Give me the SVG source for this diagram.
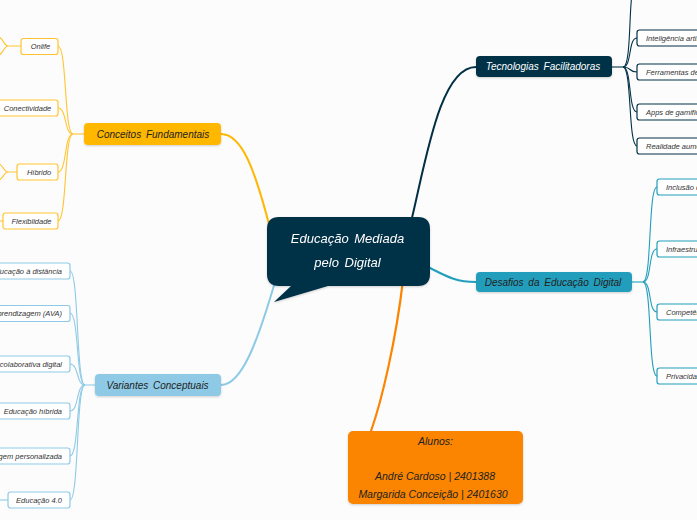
<svg xmlns="http://www.w3.org/2000/svg" width="697" height="520" viewBox="0 0 697 520">
<style>
text{font-family:"Liberation Sans",Arial,sans-serif;font-style:italic;}
.main{font-size:10px;word-spacing:2px;}
.child{font-size:7.5px;fill:#333;}
.cbox{fill:#fff;stroke-width:1.2;}
.amb{stroke:#ffc531;}
.lb{stroke:#8ecae6;}
.nv{stroke:#023047;}
.tl{stroke:#219ebc;}
.con{fill:none;stroke-linecap:round;}
</style>
<defs>
<filter id="sh" x="-10%" y="-20%" width="120%" height="150%">
<feDropShadow dx="0" dy="1" stdDeviation="1" flood-color="#000" flood-opacity="0.18"/>
</filter>
</defs>
<rect width="697" height="520" fill="#fcfcfc"/>

<g id="connectors">
<!-- main branches -->
<path class="con" d="M221,134 C242,134 255,170 270,228" stroke="#ffb703" stroke-width="2"/>
<path class="con" d="M221,385 C242,385 258,340 275,282" stroke="#8ecae6" stroke-width="2"/>
<path class="con" d="M411,222 C426,160 440,67 476,67" stroke="#023047" stroke-width="2"/>
<path class="con" d="M428,267 C446,276 455,282 476,282" stroke="#219ebc" stroke-width="2"/>
<path class="con" d="M403,280 C396,340 382,400 371,431" stroke="#fb8500" stroke-width="2.2"/>

<!-- Conceitos children -->
<g stroke="#ffc531" stroke-width="1.1" fill="none">
<path d="M84,134 H73"/>
<path d="M73,134 C64,134 67,46 58,46"/>
<path d="M73,134 C64,134 67,108 58,108"/>
<path d="M73,134 C64,134 67,172 58,172"/>
<path d="M73,134 C64,134 67,221 58,221"/>
<path d="M21,46 H8 M8,46 C4,46 3,38 -1,37 M8,46 C4,46 3,54 -1,55"/>
<path d="M17,172 H8 M8,172 C4,172 3,165 -1,164 M8,172 C4,172 3,179 -1,180"/>
<path d="M3,221 H-2"/>
</g>

<!-- Variantes children -->
<g stroke="#8ecae6" stroke-width="1.1" fill="none">
<path d="M95,385 H85"/>
<path d="M85,385 C76,385 79,271 70,271"/>
<path d="M85,385 C76,385 79,313 70,313"/>
<path d="M85,385 C76,385 79,364 70,364"/>
<path d="M85,385 C76,385 79,411 70,411"/>
<path d="M85,385 C76,385 79,456 70,456"/>
<path d="M85,385 C76,385 79,500 70,500"/>
<path d="M8,500 H-2"/>
</g>

<!-- Tecnologias children -->
<g stroke="#023047" stroke-width="1.1" fill="none">
<path d="M612,67 H623"/>
<path d="M623,67 C631,67 629,10 632,-5"/>
<path d="M623,67 C632,67 628,38 637,38"/>
<path d="M623,67 C632,67 628,72 637,72"/>
<path d="M623,67 C632,67 628,112 637,112"/>
<path d="M623,67 C632,67 628,146 637,146"/>
</g>

<!-- Desafios children -->
<g stroke="#219ebc" stroke-width="1.1" fill="none">
<path d="M632,282 H643"/>
<path d="M643,282 C652,282 648,187 657,187"/>
<path d="M643,282 C652,282 648,249 657,249"/>
<path d="M643,282 C652,282 648,312 657,312"/>
<path d="M643,282 C652,282 648,376 657,376"/>
</g>
</g>

<!-- center -->
<g id="center" filter="url(#sh)">
<path d="M279,217 H418 Q430,217 430,229 V274 Q430,286 418,286 H328 L274,302 L291,286 H279 Q267,286 267,274 V229 Q267,217 279,217 Z" fill="#023047"/>
<text x="347.5" y="243" font-size="13" fill="#fff" text-anchor="middle" style="word-spacing:2px">Educação Mediada</text>
<text x="347.5" y="267" font-size="13" fill="#fff" text-anchor="middle" style="word-spacing:2px">pelo Digital</text>
</g>

<!-- Conceitos Fundamentais -->
<g id="conceitos">
<rect x="84" y="123" width="137" height="22" rx="4" fill="#ffb703" filter="url(#sh)"/>
<text class="main" x="153" y="137.5" text-anchor="middle" fill="#222">Conceitos Fundamentais</text>
</g>
<g id="onlife"><rect class="cbox amb" x="21" y="38.5" width="37" height="16" rx="2.5"/><text class="child" x="40.5" y="49" text-anchor="middle">Onlife</text></g>
<g id="conectividade"><rect class="cbox amb" x="-3" y="100" width="61" height="16" rx="2.5"/><text class="child" x="27.5" y="110.5" text-anchor="middle">Conectividade</text></g>
<g id="hibrido"><rect class="cbox amb" x="17" y="164" width="41" height="16" rx="2.5"/><text class="child" x="39" y="174.5" text-anchor="middle">Híbrido</text></g>
<g id="flexiblidade"><rect class="cbox amb" x="3" y="213" width="55" height="16" rx="2.5"/><text class="child" x="31.5" y="223.5" text-anchor="middle">Flexiblidade</text></g>

<!-- Variantes Conceptuais -->
<g id="variantes">
<rect x="95" y="374" width="126" height="22" rx="4" fill="#8ecae6" filter="url(#sh)"/>
<text class="main" x="157.5" y="388.5" text-anchor="middle" fill="#222">Variantes Conceptuais</text>
</g>
<g id="ead"><rect class="cbox lb" x="-40" y="263" width="110" height="16" rx="2.5"/><text class="child" x="62" y="273.5" text-anchor="end">Educação à distância</text></g>
<g id="ava"><rect class="cbox lb" x="-140" y="305.5" width="210" height="16" rx="2.5"/><text class="child" x="62" y="316" text-anchor="end">Ambientes virtuais de aprendizagem (AVA)</text></g>
<g id="colab"><rect class="cbox lb" x="-90" y="356" width="160" height="16" rx="2.5"/><text class="child" x="62" y="366.5" text-anchor="end">Aprendizagem colaborativa digital</text></g>
<g id="hibrida"><rect class="cbox lb" x="-10" y="403" width="80" height="16" rx="2.5"/><text class="child" x="62" y="413.5" text-anchor="end">Educação híbrida</text></g>
<g id="personalizada"><rect class="cbox lb" x="-60" y="448" width="130" height="16" rx="2.5"/><text class="child" x="62" y="458.5" text-anchor="end">Aprendizagem personalizada</text></g>
<g id="edu40"><rect class="cbox lb" x="8" y="492" width="62" height="16" rx="2.5"/><text class="child" x="39" y="502.5" text-anchor="middle">Educação 4.0</text></g>

<!-- Tecnologias Facilitadoras -->
<g id="tecnologias">
<rect x="476" y="56" width="136" height="21" rx="4" fill="#023047" filter="url(#sh)"/>
<text class="main" x="543" y="70" text-anchor="middle" fill="#fff">Tecnologias Facilitadoras</text>
</g>
<g id="ia"><rect class="cbox nv" x="637" y="30" width="110" height="16" rx="2.5"/><text class="child" x="646" y="40.5">Inteligência artificial</text></g>
<g id="ferramentas"><rect class="cbox nv" x="637" y="64" width="130" height="16" rx="2.5"/><text class="child" x="646" y="74.5">Ferramentas de colaboração</text></g>
<g id="apps"><rect class="cbox nv" x="637" y="104" width="110" height="16" rx="2.5"/><text class="child" x="646" y="114.5">Apps de gamificação</text></g>
<g id="ra"><rect class="cbox nv" x="637" y="138" width="110" height="16" rx="2.5"/><text class="child" x="646" y="148.5">Realidade aumentada</text></g>

<!-- Desafios -->
<g id="desafios">
<rect x="476" y="272" width="156" height="20" rx="4" fill="#219ebc" filter="url(#sh)"/>
<text class="main" x="553" y="285.5" text-anchor="middle" fill="#222">Desafios da Educação Digital</text>
</g>
<g id="inclusao"><rect class="cbox tl" x="657" y="179" width="90" height="16" rx="2.5"/><text class="child" x="666" y="189.5">Inclusão digital</text></g>
<g id="infra"><rect class="cbox tl" x="657" y="241" width="120" height="16" rx="2.5"/><text class="child" x="666" y="251.5">Infraestrutura tecnológica</text></g>
<g id="competencias"><rect class="cbox tl" x="657" y="304" width="110" height="16" rx="2.5"/><text class="child" x="666" y="314.5">Competências digitais</text></g>
<g id="privacidade"><rect class="cbox tl" x="657" y="368" width="110" height="16" rx="2.5"/><text class="child" x="666" y="378.5">Privacidade e segurança</text></g>

<!-- Alunos -->
<g id="alunos">
<rect x="348" y="431" width="175" height="73" rx="5" fill="#fb8500" filter="url(#sh)"/>
<text x="435.5" y="445" font-size="10.5" text-anchor="middle" fill="#222">Alunos:</text>
<text x="435" y="480" font-size="10.5" text-anchor="middle" fill="#222">André Cardoso | 2401388</text>
<text x="433" y="497.5" font-size="10.5" text-anchor="middle" fill="#222">Margarida Conceição | 2401630</text>
</g>
</svg>
